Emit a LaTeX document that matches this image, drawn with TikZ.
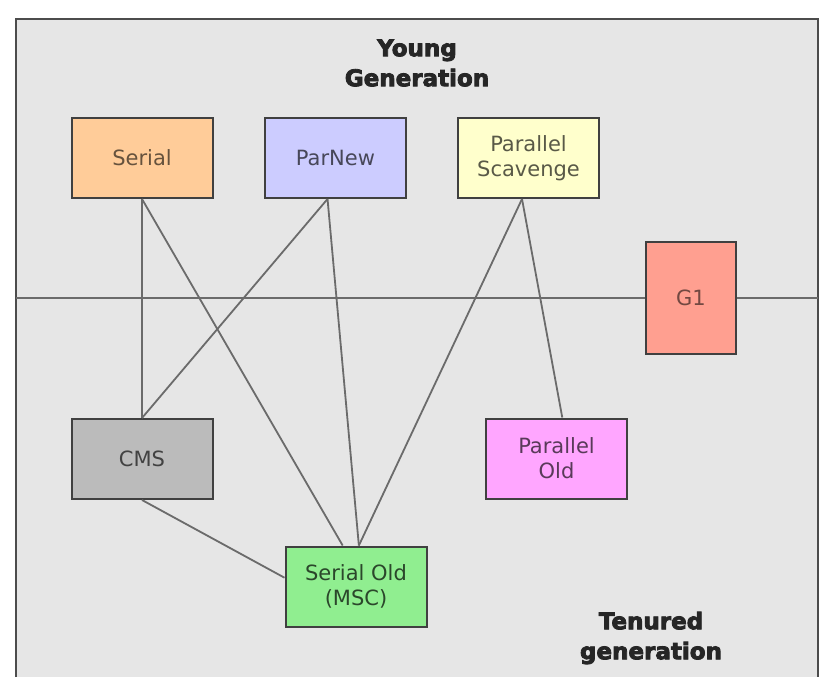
\documentclass[tikz,border=0pt]{standalone}
\usepackage{fontspec}
\setmainfont{DejaVu Sans}
\newfontfamily\heavyfont{DejaVu Sans}[UprightFont=* Bold,FakeBold=3.5]

\definecolor{bgc}{HTML}{E6E6E6}
\definecolor{serialc}{HTML}{FFCC99}
\definecolor{parnewc}{HTML}{CCCCFF}
\definecolor{scavc}{HTML}{FFFFCC}
\definecolor{g1c}{HTML}{FF9F90}
\definecolor{cmsc}{HTML}{BBBBBB}
\definecolor{poldc}{HTML}{FFA6FF}
\definecolor{soldc}{HTML}{90EE90}

\begin{document}
\begin{tikzpicture}[x=1pt,y=-1pt]
   \tikzstyle{gc}=[draw=black!75,line width=2pt,minimum width=141pt,minimum height=80pt,inner sep=0pt,align=center,font=\fontsize{21}{25}\selectfont]
   \tikzstyle{link}=[draw=black!58,line width=1.8pt]
   \tikzstyle{gen}=[align=center,font=\fontsize{23}{30}\heavyfont,text=black!85]

   \useasboundingbox (0,0) rectangle (826,692);
   \fill [bgc] (16,19) rectangle (818,677);
   \draw [black!70,line width=2pt] (16,677) -- (16,19) -- (818,19) -- (818,677);

   \node (young) [gen] at (417,63) {Young\\Generation};
   \node (tenured) [gen] at (651,638) {Tenured\\generation};

   \node (serial) [gc,fill=serialc,text=serialc!40!black] at (142,158) {Serial};
   \node (parnew) [gc,fill=parnewc,text=parnewc!35!black] at (335.5,158) {ParNew};
   \node (scav) [gc,fill=scavc,text=scavc!35!black] at (528.5,158) {Parallel\\Scavenge};
   \node (g1) [gc,fill=g1c,text=g1c!45!black,minimum width=90pt,minimum height=111pt] at (691,298) {G1};
   \node (cms) [gc,fill=cmsc,text=cmsc!35!black] at (142,459) {CMS};
   \node (pold) [gc,fill=poldc,text=poldc!35!black] at (556.5,458.5) {Parallel\\Old};
   \node (sold) [gc,fill=soldc,text=soldc!30!black] at (356,586.5) {Serial Old\\(MSC)};

   \coordinate (lft) at (16,298);
   \coordinate (rgt) at (818,298);
   \draw [link] (lft) -- (g1) ;
   \draw [link] (g1) -- (rgt) ;

   \draw [link] (serial.south) -- (cms.north) ;
   \draw [link] (serial.south) -- (sold.108) ;
   \draw [link] (parnew.259) -- (cms.north) ;
   \draw [link] (parnew.259) -- (sold.86) ;
   \draw [link] (scav.261) -- (sold.86) ;
   \draw [link] (scav.261) -- (pold.82) ;
   \draw [link] (cms.south) -- (sold.173) ;
\end{tikzpicture}
\end{document}
